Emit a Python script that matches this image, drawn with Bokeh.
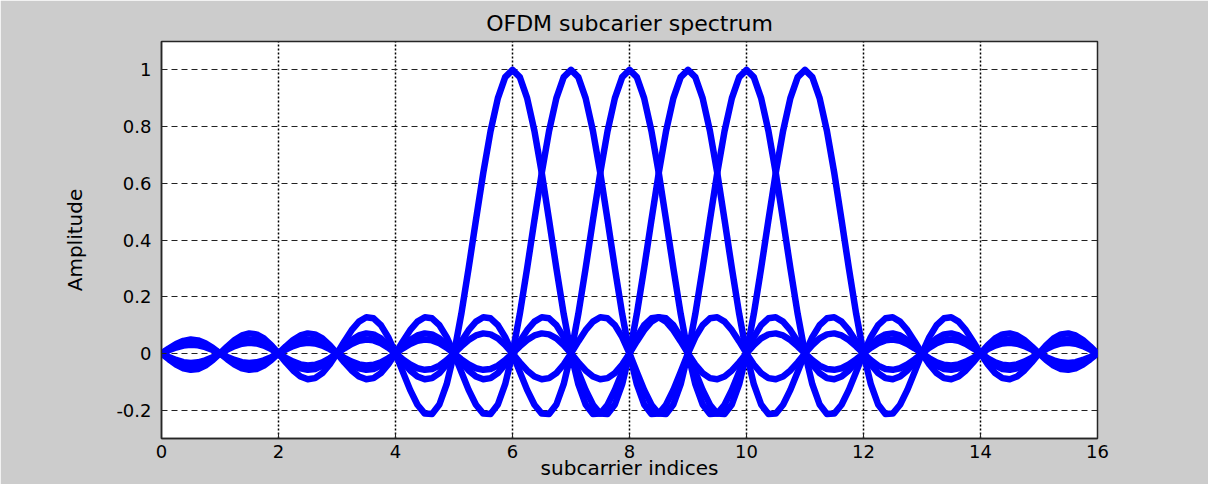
import numpy as np
from bokeh.plotting import figure
from bokeh.models import Range1d, FixedTicker
from bokeh.embed import file_html
from bokeh.resources import INLINE

# ---- data ----
centers = [6, 7, 8, 9, 10, 11]          # subcarrier indices carrying a main lobe
x_ticks = [0, 2, 4, 6, 8, 10, 12, 14, 16]
x_tick_labels = ["0", "2", "4", "6", "8", "10", "12", "14", "16"]
y_ticks = [-0.2, 0.0, 0.2, 0.4, 0.6, 0.8, 1.0]
y_tick_labels = ["-0.2", "0", "0.2", "0.4", "0.6", "0.8", "1"]

# amplitude of one subcarrier versus distance from its centre (0 .. 11, step 1/8)
profile_step = 0.125
profile = [
    1.0000, 0.9745, 0.9003, 0.7842, 0.6366, 0.4705, 0.3001, 0.1392,
    0.0000, -0.1083, -0.1801, -0.2139, -0.2122, -0.1810, -0.1286, -0.0650,
    0.0000, 0.0573, 0.1000, 0.1238, 0.1273, 0.1120, 0.0819, 0.0424,
    0.0000, -0.0390, -0.0693, -0.0871, -0.0909, -0.0811, -0.0600, -0.0314,
    0.0000, 0.0295, 0.0530, 0.0672, 0.0707, 0.0636, 0.0474, 0.0250,
    0.0000, -0.0238, -0.0429, -0.0547, -0.0579, -0.0523, -0.0391, -0.0207,
    0.0000, 0.0199, 0.0360, 0.0461, 0.0490, 0.0444, 0.0334, 0.0177,
    0.0000, -0.0171, -0.0311, -0.0399, -0.0424, -0.0386, -0.0290, -0.0155,
    0.0000, 0.0150, 0.0273, 0.0351, 0.0375, 0.0341, 0.0257, 0.0137,
    0.0000, -0.0134, -0.0243, -0.0314, -0.0335, -0.0306, -0.0231, -0.0123,
    0.0000, 0.0120, 0.0220, 0.0284, 0.0303, 0.0277, 0.0209, 0.0112,
    0.0000,
]
x_min, x_max = 0, 16

# ---- figure ----
FONT = "DejaVu Sans"
p = figure(width=1208, height=484,
           x_range=Range1d(x_min, x_max), y_range=Range1d(-0.3, 1.1),
           output_backend="svg", toolbar_location=None,
           title="OFDM subcarier spectrum",
           min_border_left=161, min_border_right=111,
           min_border_top=41, min_border_bottom=46)

p.background_fill_color = "white"
p.border_fill_color = "#cccccc"
p.outline_line_color = "#262626"
p.outline_line_width = 1.5

p.title.align = "center"
p.title.text_font = FONT
p.title.text_font_size = "22px"
p.title.text_font_style = "normal"
p.title.text_color = "black"
p.title.standoff = 11

offsets = np.array([i * profile_step for i in range(len(profile))])
vals = np.array(profile)
for c in centers:
    right = (c + offsets) <= x_max
    left = (c - offsets) >= x_min
    xs = np.concatenate([(c - offsets[left])[::-1], (c + offsets[right])[1:]])
    ys = np.concatenate([vals[left][::-1], vals[right][1:]])
    p.line(xs, ys, line_color="#0000ff", line_width=6.5, line_join="round")

# axes
p.xaxis.ticker = FixedTicker(ticks=x_ticks)
p.xaxis.major_label_overrides = {float(t): l for t, l in zip(x_ticks, x_tick_labels)}
p.yaxis.ticker = FixedTicker(ticks=y_ticks)
p.yaxis.major_label_overrides = {float(t): l for t, l in zip(y_ticks, y_tick_labels)}
p.xaxis.axis_label = "subcarrier indices"
p.yaxis.axis_label = "Amplitude"

for ax in (p.xaxis, p.yaxis):
    ax.axis_line_color = "#262626"
    ax.axis_line_width = 1.5
    ax.major_tick_in = 5
    ax.major_tick_out = 0
    ax.major_tick_line_color = "#262626"
    ax.minor_tick_line_color = None
    ax.major_label_text_font = FONT
    ax.major_label_text_font_size = "18px"
    ax.major_label_text_color = "black"
    ax.axis_label_text_font = FONT
    ax.axis_label_text_font_size = "20px"
    ax.axis_label_text_font_style = "normal"
    ax.axis_label_text_color = "black"

p.xaxis.major_label_standoff = 6
p.xaxis.axis_label_standoff = -5
p.yaxis.major_label_standoff = 10
p.yaxis.axis_label_standoff = 26

# grid
p.xgrid.ticker = FixedTicker(ticks=x_ticks)
p.ygrid.ticker = FixedTicker(ticks=y_ticks)
p.xgrid.grid_line_color = "black"
p.xgrid.grid_line_dash = "2 2"
p.xgrid.grid_line_width = 1.5
p.ygrid.grid_line_color = "#222222"
p.ygrid.grid_line_dash = "6 4"
p.ygrid.grid_line_width = 1

open("out.html", "w").write(file_html(p, INLINE))
